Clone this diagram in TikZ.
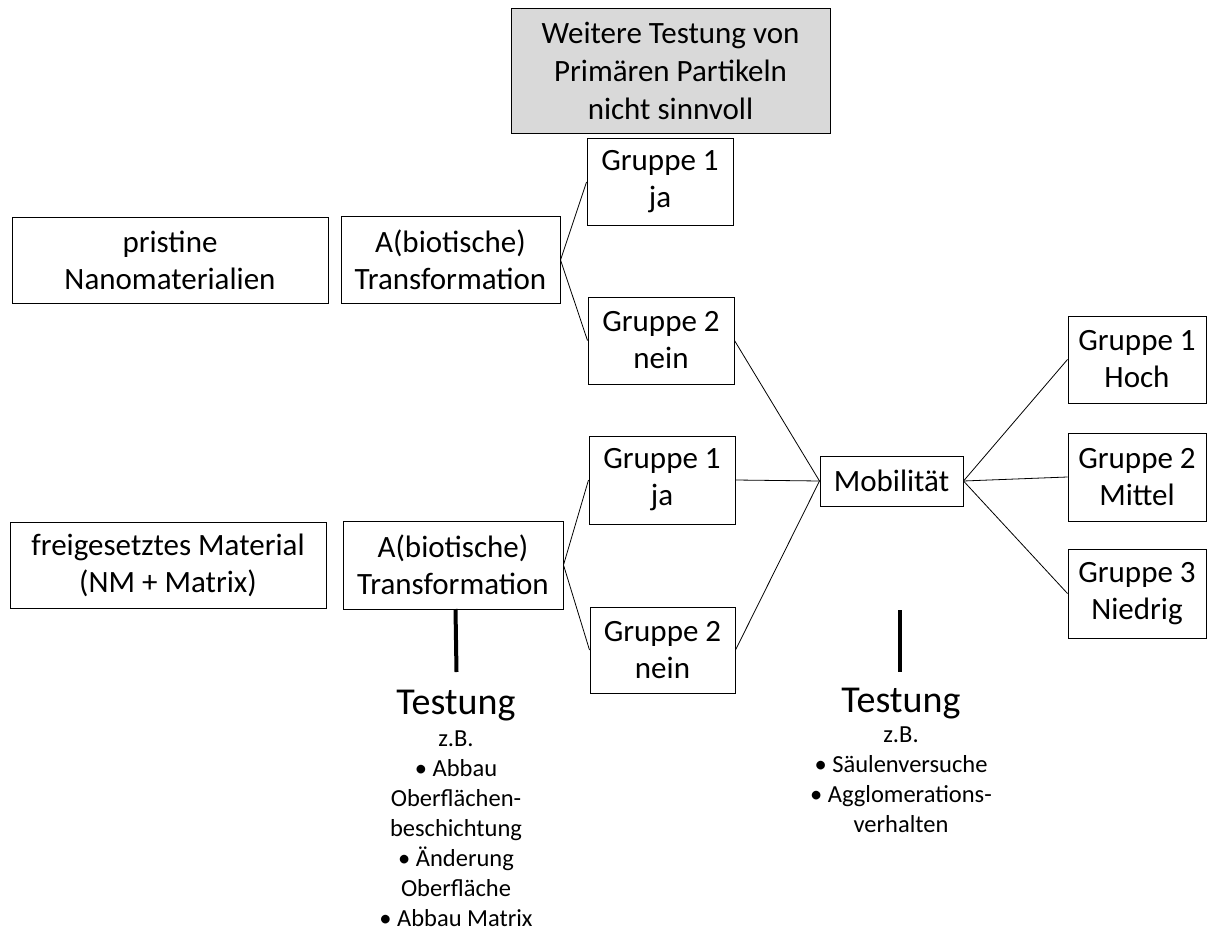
\documentclass[tikz,border=0pt]{standalone}
\usepackage{fontspec}
\setmainfont{Carlito}
\begin{document}
\begin{tikzpicture}[x=1pt,y=-1pt,
  box/.style={draw=black, line width=1pt, fill=white, align=center, inner sep=0pt,
    font=\fontsize{31}{37}\selectfont},
  graybox/.style={box, fill=gray!30, font=\fontsize{31}{38}\selectfont},
  conn/.style={draw=black, line width=0.8pt},
  thick bar/.style={draw=black, line width=4pt},
  bigtitle/.style={anchor=base, inner sep=0pt, font=\fontsize{38}{42}\selectfont},
  listtext/.style={anchor=base, inner sep=0pt, font=\fontsize{24.5}{30}\selectfont}]
\useasboundingbox (0,0) rectangle (1208,931);

% boxes
\node[graybox, minimum width=319pt, minimum height=125pt] (top) at (670.5,71) {Weitere Testung von\\Primären Partikeln\\nicht sinnvoll};
\node[box, minimum width=146pt, minimum height=87pt] (g1a) at (660,182) {Gruppe 1\\ja};
\node[box, minimum width=316pt, minimum height=86pt] (pris) at (170,260) {pristine\\Nanomaterialien};
\node[box, minimum width=219pt, minimum height=87pt] (abt) at (450.5,260) {A(biotische)\\Transformation};
\node[box, minimum width=146pt, minimum height=87pt] (g2a) at (661,340.5) {Gruppe 2\\nein};
\node[box, minimum width=143pt, minimum height=50pt] (mob) at (891.5,481) {Mobilität};
\node[box, minimum width=138pt, minimum height=87pt] (h1) at (1137,359.5) {Gruppe 1\\Hoch};
\node[box, minimum width=138pt, minimum height=88pt] (h2) at (1137,477) {Gruppe 2\\Mittel};
\node[box, minimum width=138pt, minimum height=89pt] (h3) at (1137,593.5) {Gruppe 3\\Niedrig};
\node[box, minimum width=146pt, minimum height=88pt] (g1b) at (662,480) {Gruppe 1\\ja};
\node[box, minimum width=220pt, minimum height=88pt] (abb) at (453,565) {A(biotische)\\Transformation};
\node[box, minimum width=145pt, minimum height=86pt] (g2b) at (662.5,650) {Gruppe 2\\nein};
\node[box, minimum width=316pt, minimum height=86pt] (frei) at (168,565) {freigesetztes Material\\(NM + Matrix)};

% connectors
\draw[conn] (abt.east) -- (g1a.west);
\draw[conn] (abt.east) -- (g2a.west);
\draw[conn] (abb.east) -- (g1b.west);
\draw[conn] (abb.east) -- (g2b.west);
\draw[conn] (g2a.east) -- (mob.west);
\draw[conn] (g1b.east) -- (mob.west);
\draw[conn] (g2b.east) -- (mob.west);
\draw[conn] (mob.east) -- (h1.west);
\draw[conn] (mob.east) -- (h2.west);
\draw[conn] (mob.east) -- (h3.west);

% thick bars
\coordinate (barLtop) at (455.5,609);
\coordinate (barLbot) at (456.5,672);
\coordinate (barRtop) at (900,610);
\coordinate (barRbot) at (900,672);
\draw[thick bar] (barLtop) -- (barLbot);
\draw[thick bar] (barRtop) -- (barRbot);

% testing texts
\node[bigtitle] (tl) at (456,714) {Testung};
\node[listtext] (tllist) at (456,746) {\begin{tabular}[t]{@{}c@{}}z.B.\\• Abbau\\Oberflächen-\\beschichtung\\• Änderung\\Oberfläche\\• Abbau Matrix\end{tabular}};
\node[bigtitle] (tr) at (901,712) {Testung};
\node[listtext] (trlist) at (901,742) {\begin{tabular}[t]{@{}c@{}}z.B.\\• Säulenversuche\\• Agglomerations-\\verhalten\end{tabular}};
\end{tikzpicture}
\end{document}
